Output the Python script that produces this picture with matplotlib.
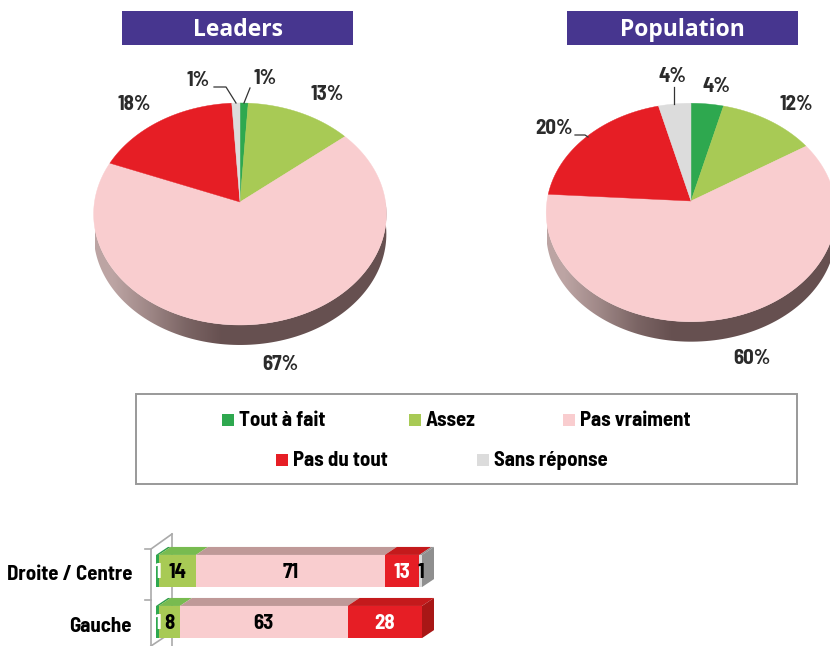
import numpy as np
import matplotlib
matplotlib.use('Agg')
import matplotlib.pyplot as plt
from matplotlib.patches import Polygon, Rectangle

plt.rcParams['font.family'] = ['Barlow Semi Condensed', 'Liberation Sans', 'DejaVu Sans']

# Data
categories = ['Tout à fait', 'Assez', 'Pas vraiment', 'Pas du tout', 'Sans réponse']
colors = ['#2ea84f', '#a8ca55', '#f9cdcf', '#e61e25', '#dcdcdc']
leaders = [1, 13, 67, 18, 1]
population = [4, 12, 60, 20, 4]
groups = ['Droite / Centre', 'Gauche']
droite = [1, 14, 71, 13, 1]
gauche = [1, 8, 63, 28, 0]
top_colors = ['#2e9c4a', '#78bb50', '#bf9998', '#c41a1c', '#8f8f8f']
side_colors = ['#8f8f8f', '#a81716']
label_colors = ['white', 'black', 'black', 'white', 'black']

fig = plt.figure(figsize=(8.3, 6.46), dpi=100)
ax = fig.add_axes([0, 0, 1, 1])
ax.set_xlim(0, 830)
ax.set_ylim(646, 0)
ax.axis('off')


# Pie seen in perspective: the unit circle goes through a homography
def project(theta, cx, cy, a, b, k):
    x = np.sin(theta)
    y = np.cos(theta)
    w = 1 + k * y
    return cx + a * x / w, cy - b * y / w


def draw_pie(values, cx, cy, a, b, k, depth):
    # side first
    t = np.radians(np.linspace(90, 270, 120))
    xs, ys = project(t, cx, cy, a, b, k)
    pts = list(zip(xs, ys)) + list(zip(xs[::-1], ys[::-1] + depth))
    side = Polygon(pts, closed=True, fc='none', ec='none')
    ax.add_patch(side)
    grad = np.array([[0.0, 0.35, 0.75, 1.0, 1.0, 1.0, 1.0, 1.0]])
    img = ax.imshow(grad, extent=(cx - a, cx + a, cy + b + depth + 30, cy), aspect='auto',
                    cmap=matplotlib.colors.LinearSegmentedColormap.from_list('s', ['#bca4a3', '#665050']),
                    interpolation='bilinear', zorder=1)
    img.set_clip_path(side)
    start = 0
    for v, c in zip(values, colors):
        t = np.radians(np.linspace(start, start + v, max(int(v * 4), 4)) * 3.6)
        xs, ys = project(t, cx, cy, a, b, k)
        ax.add_patch(Polygon([(cx, cy)] + list(zip(xs, ys)), closed=True, fc=c, ec=c, lw=0.3, zorder=2))
        start += v


draw_pie(leaders, 240, 202, 145.5, 109.7, 0.108, 20)
draw_pie(population, 691, 201, 144, 108, 0.105, 20)
ax.set_xlim(0, 830)
ax.set_ylim(646, 0)

# Title boxes
for x0, title in [(122, 'Leaders'), (567, 'Population')]:
    ax.add_patch(Rectangle((x0, 11), 231, 34, fc='#47368f', ec='none', zorder=3))
    ax.text(x0 + 115.5, 36, title, color='white', fontsize=16.5, fontweight='bold', family='Open Sans',
            ha='center', va='baseline', zorder=4)

# Pie labels
lab_leaders = [(f'{leaders[0]}%', 265, 78), (f'{leaders[1]}%', 327, 95), (f'{leaders[2]}%', 280, 364),
               (f'{leaders[3]}%', 134, 104), (f'{leaders[4]}%', 198, 80)]
lab_pop = [(f'{population[0]}%', 716, 86), (f'{population[1]}%', 796, 104), (f'{population[2]}%', 752, 358),
           (f'{population[3]}%', 554, 128), (f'{population[4]}%', 672, 76)]
for s, x, y in lab_leaders + lab_pop:
    ax.text(x, y, s, fontsize=15, fontweight='bold', color='#2b2b2b', ha='center', va='center', zorder=4)
ax.plot([214, 226, 236], [87, 87, 103], color='#333333', lw=0.9, zorder=4)
ax.plot([250, 244], [88, 103], color='#333333', lw=0.9, zorder=4)
ax.plot([674, 674], [87, 104], color='#333333', lw=0.9, zorder=4)
ax.plot([575, 585, 588], [135, 135, 137], color='#333333', lw=0.9, zorder=4)

# Legend
ax.add_patch(Rectangle((136, 393.5), 661, 90.5, fc='white', ec='#999999', lw=1.4, zorder=3))
leg_x = [222, 409, 563, 276, 477]
leg_y = [420, 420, 420, 460, 460]
for name, c, x, y in zip(categories, colors, leg_x, leg_y):
    ax.add_patch(Rectangle((x, y - 6), 11.5, 11.5, fc=c, ec='none', zorder=4))
    ax.text(x + 17, y, name, fontsize=15, fontweight='bold', color='black', va='center', zorder=4)

# Wall of the bar chart
wall = '#aaaaaa'
ax.plot([172, 151, 151], [534, 549, 646], color=wall, lw=1.2, zorder=1)
ax.plot([172, 172], [534, 646], color=wall, lw=1.2, zorder=1)
ax.plot([151, 172], [646, 632], color=wall, lw=1.2, zorder=1)
ax.plot([145, 151], [549, 549], color=wall, lw=1.2, zorder=1)
ax.plot([145, 151], [600, 600], color=wall, lw=1.2, zorder=1)

# Stacked bars
bx = fig.add_axes([156 / 830, 0, 266 / 830, 126 / 646])
bx.patch.set_alpha(0)
bx.set_xlim(0, 100)
bx.set_ylim(1.47, -1)
bx.axis('off')
dx = 12 / 2.66
dy = 8 / 51
height = 0.63
for row, vals in enumerate([droite, gauche]):
    left = 0
    top = row - height / 2
    for i, v in enumerate(vals):
        if v == 0:
            continue
        bx.barh(row, v, left=left, height=height, color=colors[i], zorder=3)
        bx.add_patch(Polygon([(left, top), (left + v, top), (left + v + dx, top - dy), (left + dx, top - dy)],
                             closed=True, fc=top_colors[i], ec='none', zorder=2, clip_on=False))
        bx.text(left + v / 2, row + 0.02, str(v), color=label_colors[i], fontsize=15, fontweight='bold',
                ha='center', va='center', zorder=5, clip_on=False)
        left += v
    bx.add_patch(Polygon([(left, top), (left + dx, top - dy), (left + dx, top - dy + height), (left, top + height)],
                         closed=True, fc=side_colors[row], ec='none', zorder=2, clip_on=False))
    ax.text(132, [575, 626][row], groups[row], fontsize=15, fontweight='bold', color='black',
            ha='right', va='center', zorder=4)

fig.savefig('out.png', dpi=100)
